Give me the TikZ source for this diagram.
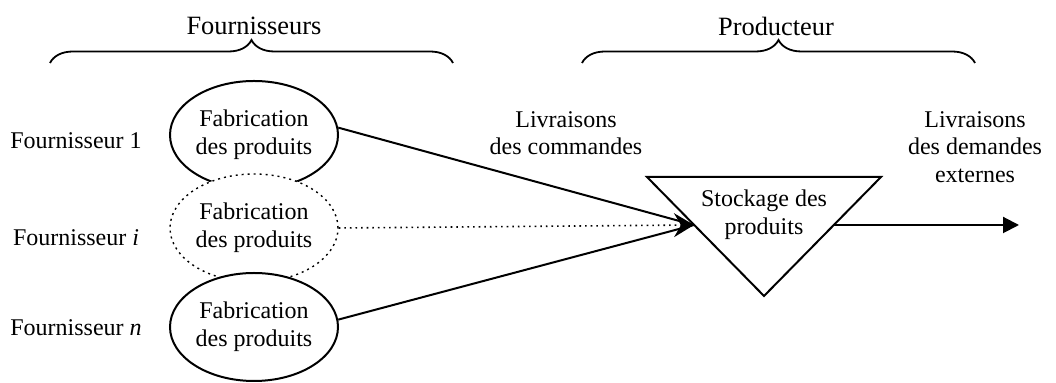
\documentclass[tikz,border=0pt]{standalone}
\usepackage{fontspec}
\setmainfont{Liberation Serif}
\usetikzlibrary{shapes.geometric,arrows.meta,decorations.pathreplacing}
\begin{document}
\begin{tikzpicture}[x=0.5pt,y=-0.5pt,
  every node/.style={font=\fontsize{12pt}{13.8pt}\selectfont},
  fab/.style={ellipse, draw, line width=1pt, fill=white, minimum width=84pt, minimum height=54pt, inner sep=0pt, align=center},
  lbl/.style={align=center, inner sep=0pt},
  ttl/.style={inner sep=0pt, font=\fontsize{13.2pt}{15pt}\selectfont},
  conn/.style={line width=1pt},
  brc/.style={decorate, decoration={brace, amplitude=11.5pt}, line width=0.9pt}]
\useasboundingbox (0,0) rectangle (1056,383);
% braces
\coordinate (b1s) at (50,63); \coordinate (b1e) at (453,63);
\coordinate (b2s) at (582,63); \coordinate (b2e) at (975,63);
\draw[brc] (b1s) -- (b1e);
\draw[brc] (b2s) -- (b2e);
\node[ttl] (tf) at (254,26) {Fournisseurs};
\node[ttl] (tp) at (776,26) {Producteur};
% supplier ellipses
\node[fab] (e1) at (254,135) {Fabrication\\des produits};
\node[fab, dotted, line width=0.7pt] (ei) at (254,228) {Fabrication\\des produits};
\node[fab] (en) at (254,327) {Fabrication\\des produits};
% left labels
\node[lbl] (f1) at (76,141) {Fournisseur 1};
\node[lbl] (fi) at (76,238) {Fournisseur \textit{i}};
\node[lbl] (fn) at (76,328) {Fournisseur \textit{n}};
% storage triangle
\coordinate (t1) at (647,177); \coordinate (t2) at (881,177); \coordinate (t3) at (764,296);
\draw[conn, line join=miter] (t1) -- (t2) -- (t3) -- cycle;
\node[lbl] (stock) at (764,215) {Stockage des\\produits};
\coordinate (tin) at (694,225);
\coordinate (tout) at (834,225);
\coordinate (out) at (1019,225);
% connectors
\draw[conn] (e1.5) -- (tin);
\draw[conn] (en.5) -- (tin);
\draw[line width=0.8pt, dotted, -{Stealth[length=10pt,width=12pt,inset=3.5pt]}] (ei.east) -- (tin);
\draw[conn, -{Triangle[length=8pt,width=8pt]}] (tout) -- (out);
% labels
\node[lbl] (lc) at (566,133) {Livraisons\\des commandes};
\node[lbl] (ld) at (975,147) {Livraisons\\des demandes\\externes};
\end{tikzpicture}
\end{document}
